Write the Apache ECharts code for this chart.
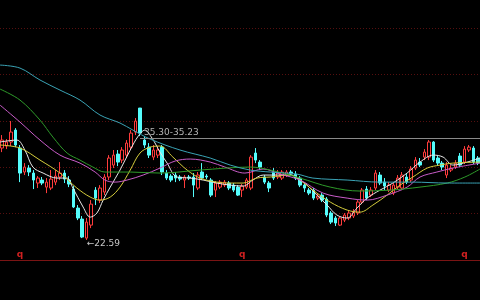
<!DOCTYPE html>
<html><head><meta charset="utf-8">
<script src="https://cdn.jsdelivr.net/npm/echarts@6/dist/echarts.min.js"></script>
<style>html,body{margin:0;padding:0;background:#000;}#c{width:480px;height:300px;}</style>
</head><body><div id="c"></div>
<script>
// ---- data ----
const categories = Array.from({length:108}, (_, i) => String(i + 1));
const opens  = [31.44,31.63,32.02,33.17,31.44,29.13,29.51,29.03,28.07,28.36,27.68,27.59,28.16,28.65,29.03,28.36,27.49,25.66,24.60,22.77,24.02,27.39,26.43,27.20,28.65,29.80,30.86,30.28,30.76,31.53,32.98,35.29,32.21,31.53,30.57,30.76,31.53,29.03,28.74,28.84,28.65,28.36,28.65,28.65,27.59,29.13,28.74,28.36,27.39,27.68,27.87,28.07,27.87,27.68,27.39,27.68,27.59,30.96,30.09,28.65,28.07,29.13,28.65,28.55,28.84,29.13,28.93,28.55,27.87,27.39,27.39,26.62,26.91,26.53,25.18,24.70,24.02,24.50,24.70,24.89,25.18,26.24,27.49,26.91,27.59,28.84,28.16,27.39,27.10,27.68,27.59,28.65,28.36,29.51,30.09,30.57,30.57,32.02,30.48,29.99,28.84,29.32,29.61,30.67,30.09,31.25,31.44,30.48];
const closes = [32.21,32.02,32.98,31.73,29.03,29.61,29.13,28.36,28.55,28.07,28.16,28.45,28.74,29.03,28.45,27.97,25.76,24.70,22.87,24.31,26.04,26.62,27.59,28.65,30.48,30.76,30.09,31.25,31.92,32.88,34.04,32.88,31.73,30.76,31.25,31.25,29.13,28.55,28.36,28.55,28.45,28.65,28.55,27.87,28.84,28.55,28.65,26.91,28.07,28.16,28.16,27.59,27.39,26.91,27.78,28.36,30.57,30.28,29.61,28.16,27.59,28.55,29.03,29.13,29.13,28.93,28.55,27.87,27.59,27.10,26.62,26.82,26.43,24.99,24.31,24.22,24.70,24.99,25.18,25.27,26.24,27.39,26.62,27.39,29.03,28.07,27.78,27.87,27.87,28.55,28.84,28.16,29.42,30.28,29.80,31.05,32.02,30.28,29.99,29.61,29.80,29.51,29.99,29.80,31.34,31.53,30.09,29.99];
const lows   = [31.05,31.34,31.63,31.53,28.16,28.84,28.74,27.49,27.59,27.87,27.10,27.39,27.87,28.36,28.07,27.68,25.66,24.50,22.77,22.59,23.73,25.95,26.14,26.91,28.36,29.51,29.70,29.99,30.48,31.25,32.69,32.59,31.44,30.48,30.28,30.48,28.84,28.36,28.16,28.16,28.26,27.59,28.36,26.72,27.39,28.36,28.45,26.72,26.72,27.49,27.68,27.39,27.20,26.82,26.72,27.49,27.39,29.99,29.32,27.97,27.20,28.36,28.45,28.36,28.65,28.74,28.36,27.68,27.20,26.91,26.43,26.43,26.24,24.79,24.12,23.93,23.93,24.31,24.50,24.70,24.99,26.04,26.43,26.72,27.39,27.87,27.39,27.20,26.91,27.49,27.39,27.97,28.16,29.32,29.61,30.28,30.28,30.09,29.80,29.32,28.55,29.13,29.42,29.61,29.90,31.05,29.90,29.80];
const highs  = [32.69,32.30,34.04,33.36,31.73,29.99,29.80,29.32,28.74,28.65,28.55,29.32,29.32,30.09,29.32,28.74,27.78,25.95,24.89,24.70,26.43,27.68,27.87,28.93,30.76,31.25,31.25,31.53,32.21,33.17,34.33,35.30,32.59,31.92,31.73,31.63,31.73,29.32,28.93,29.13,28.84,28.84,28.84,29.03,29.13,29.99,28.93,28.55,28.26,28.36,28.36,28.26,28.07,27.87,27.97,28.55,30.76,31.44,30.28,28.84,28.26,29.51,29.32,29.32,29.32,29.32,29.22,28.74,28.07,27.59,27.59,27.10,27.10,26.72,25.37,24.89,24.89,25.18,25.47,25.56,26.43,27.59,27.78,27.68,29.32,29.13,28.55,28.16,28.16,28.84,29.13,28.93,29.70,30.57,30.48,31.34,32.21,32.11,30.67,30.19,30.09,29.80,30.28,30.96,31.63,31.73,31.63,30.67];

// moving-average lines, read as [candle position, price]
const ma5  = [[-0.5,32.02],[3.3,32.21],[5.1,31.25],[6.9,29.61],[9.2,29.03],[12.3,28.55],[14.6,28.55],[15.9,27.59],[18.2,25.76],[19.8,24.79],[21.3,25.18],[22.7,26.43],[24.3,27.68],[26.5,29.32],[28.8,31.25],[30.6,32.59],[32.1,33.17],[33.7,32.40],[35.5,31.05],[37.1,29.99],[39.3,28.65],[42.3,28.55],[45.2,28.36],[48.3,28.07],[51.3,27.87],[54.2,27.78],[56.4,28.36],[58.7,28.84],[61.8,28.84],[64.8,28.84],[66.3,28.55],[68.6,27.87],[70.8,26.91],[73.1,25.95],[75.3,24.99],[77.6,24.70],[79.8,25.66],[82.1,26.62],[85,27.39],[87.9,28.07],[91.1,29.03],[94,30.09],[97,30.76],[99.2,30.57],[101.4,29.80],[104.6,30.09],[107.5,30.48]];
const ma10 = [[-0.5,31.73],[4,31.44],[8.5,30.28],[13,29.03],[16.8,27.59],[19.8,26.72],[22,26.43],[24.3,26.72],[26.5,27.68],[28.8,29.32],[31,30.96],[33.3,31.53],[35.5,31.63],[38.4,30.57],[41.6,29.32],[44.5,28.55],[48.3,28.16],[51.3,28.07],[54.2,28.07],[57.3,28.55],[60.3,28.65],[64.8,28.84],[67,28.36],[69.9,27.39],[73.8,26.24],[77.6,25.47],[80.5,25.27],[83.4,25.95],[86.6,26.91],[89.5,27.87],[92.4,28.65],[95.6,29.51],[98.5,29.80],[101.4,29.99],[107.5,30.09]];
const ma20 = [[-0.5,35.58],[4,33.94],[8.5,32.21],[13,30.76],[17.5,29.99],[20.9,29.13],[23.1,28.36],[25.4,28.16],[28.1,28.36],[31.7,28.84],[35.5,29.51],[38.9,30.19],[42.3,30.38],[46.8,30.09],[50.1,29.61],[54.6,29.03],[58.7,29.42],[62.5,28.93],[67,28.36],[72.2,27.10],[77.6,26.62],[82.1,26.43],[86.6,26.91],[91.1,27.68],[94,28.65],[97.8,29.13],[101.4,29.51],[107.5,29.99]];
const ma30 = [[-0.5,37.12],[4,36.06],[8.5,34.13],[11.4,32.50],[14.6,30.96],[17.5,30.28],[20.4,29.61],[23.1,29.13],[28.8,29.13],[35.5,29.03],[44.5,29.32],[55.8,29.61],[60.3,29.32],[67,28.55],[73.8,27.68],[80.5,27.30],[87.3,27.39],[94,27.68],[100.1,28.07],[104.1,28.65],[107.5,29.42]];
const ma60 = [[-0.5,39.43],[4,39.14],[8.5,37.99],[13,37.02],[17.5,36.06],[22,34.62],[26.5,33.85],[29.4,33.17],[33.3,32.30],[40,31.25],[46.8,30.48],[51.3,29.80],[55.8,29.32],[60.3,29.13],[66.3,28.93],[69.9,28.55],[77.6,28.36],[85,28.16],[92.4,28.16],[100.1,28.07],[107.5,28.07]];

const markIdx = [4, 54, 104];
const markText = 'q';
const lowIdx = 19, lowValue = 22.59, lowText = '←22.59';
const refStartIdx = 31, refValue = 32.40, refText = '35.30-35.23';

// ---- chart ----
const chart = echarts.init(document.getElementById('c'), null, {renderer:'canvas'});
const maLine = (data, color) => ({
  type:'line', xAxisIndex:1, yAxisIndex:0, data, smooth:0.35, symbol:'none',
  lineStyle:{color, width:1}, silent:true, animation:false, z:3
});
chart.setOption({
  backgroundColor:'#000',
  animation:false,
  grid:{left:0, right:0, top:28, bottom:40},
  xAxis:[
    {type:'category', data:categories, boundaryGap:true,
     axisLine:{show:true, lineStyle:{color:'#7a1414', width:1}},
     axisTick:{show:false}, splitLine:{show:false},
     axisLabel:{show:true, inside:true, margin:1, color:'#d02020', fontSize:9, fontWeight:'bold',
       fontFamily:'DejaVu Sans',
       interval:(i)=> markIdx.includes(i), formatter:()=>markText}},
    {type:'value', min:-0.5, max:107.5, show:false}
  ],
  yAxis:[
    {type:'value', min:20.66, max:43.0, show:false, splitLine:{show:false}},
    {type:'value', min:0, max:5, interval:1, show:true, position:'right',
     axisLine:{show:false}, axisTick:{show:false}, axisLabel:{show:false},
     splitLine:{show:true, lineStyle:{color:'#560f0f', type:[1,2], width:1}}}
  ],
  series:[
    {type:'candlestick', xAxisIndex:0, yAxisIndex:0, barWidth:3,
     data: opens.map((o,i)=>[o, closes[i], lows[i], highs[i]]),
     itemStyle:{color:'#000', borderColor:'#ff3c3c', color0:'#54fcfc', borderColor0:'#54fcfc', borderWidth:1},
     markPoint:{symbol:'circle', symbolSize:0, silent:true,
       data:[{coord:[lowIdx, lowValue], label:{show:true, position:'right', distance:0, offset:[0,4],
         formatter:lowText, color:'#c8c8c8', fontSize:9, fontFamily:'DejaVu Sans'}}]},
     z:2},
    maLine(ma5,  '#e8e8e8'),
    maLine(ma10, '#d4cc3c'),
    maLine(ma20, '#c85cc8'),
    maLine(ma30, '#2e9a2a'),
    Object.assign(maLine(ma60, '#3aa2b4'), {
      markLine:{symbol:'none', silent:true,
        lineStyle:{color:'#8a8a8a', type:'solid', width:1},
        label:{show:true, position:'insideStartTop', distance:[4,1], formatter:refText, color:'#b4b4b4', fontSize:9, fontFamily:'DejaVu Sans'},
        data:[[{coord:[refStartIdx, refValue]},{coord:[107.5, refValue]}]]}
    })
  ]
});
</script></body></html>
